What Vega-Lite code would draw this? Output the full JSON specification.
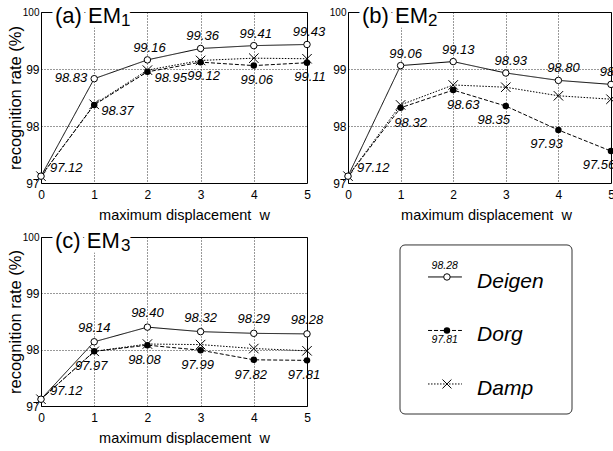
{
  "$schema": "https://vega.github.io/schema/vega-lite/v6.json",
  "padding": {"left": 6, "top": 4, "right": 0, "bottom": 0},
  "spacing": 7,
  "datasets": {
    "main": [
      {"panel": "a", "series": "Deigen", "w": 0, "rate": 97.12},
      {"panel": "a", "series": "Deigen", "w": 1, "rate": 98.83},
      {"panel": "a", "series": "Deigen", "w": 2, "rate": 99.16},
      {"panel": "a", "series": "Deigen", "w": 3, "rate": 99.36},
      {"panel": "a", "series": "Deigen", "w": 4, "rate": 99.41},
      {"panel": "a", "series": "Deigen", "w": 5, "rate": 99.43},
      {"panel": "a", "series": "Dorg", "w": 0, "rate": 97.12},
      {"panel": "a", "series": "Dorg", "w": 1, "rate": 98.37},
      {"panel": "a", "series": "Dorg", "w": 2, "rate": 98.95},
      {"panel": "a", "series": "Dorg", "w": 3, "rate": 99.12},
      {"panel": "a", "series": "Dorg", "w": 4, "rate": 99.06},
      {"panel": "a", "series": "Dorg", "w": 5, "rate": 99.11},
      {"panel": "a", "series": "Damp", "w": 0, "rate": 97.12},
      {"panel": "a", "series": "Damp", "w": 1, "rate": 98.38},
      {"panel": "a", "series": "Damp", "w": 2, "rate": 98.98},
      {"panel": "a", "series": "Damp", "w": 3, "rate": 99.15},
      {"panel": "a", "series": "Damp", "w": 4, "rate": 99.19},
      {"panel": "a", "series": "Damp", "w": 5, "rate": 99.18},
      {"panel": "b", "series": "Deigen", "w": 0, "rate": 97.12},
      {"panel": "b", "series": "Deigen", "w": 1, "rate": 99.06},
      {"panel": "b", "series": "Deigen", "w": 2, "rate": 99.13},
      {"panel": "b", "series": "Deigen", "w": 3, "rate": 98.93},
      {"panel": "b", "series": "Deigen", "w": 4, "rate": 98.80},
      {"panel": "b", "series": "Deigen", "w": 5, "rate": 98.73},
      {"panel": "b", "series": "Dorg", "w": 0, "rate": 97.12},
      {"panel": "b", "series": "Dorg", "w": 1, "rate": 98.32},
      {"panel": "b", "series": "Dorg", "w": 2, "rate": 98.63},
      {"panel": "b", "series": "Dorg", "w": 3, "rate": 98.35},
      {"panel": "b", "series": "Dorg", "w": 4, "rate": 97.93},
      {"panel": "b", "series": "Dorg", "w": 5, "rate": 97.56},
      {"panel": "b", "series": "Damp", "w": 0, "rate": 97.12},
      {"panel": "b", "series": "Damp", "w": 1, "rate": 98.37},
      {"panel": "b", "series": "Damp", "w": 2, "rate": 98.72},
      {"panel": "b", "series": "Damp", "w": 3, "rate": 98.68},
      {"panel": "b", "series": "Damp", "w": 4, "rate": 98.53},
      {"panel": "b", "series": "Damp", "w": 5, "rate": 98.47},
      {"panel": "c", "series": "Deigen", "w": 0, "rate": 97.12},
      {"panel": "c", "series": "Deigen", "w": 1, "rate": 98.14},
      {"panel": "c", "series": "Deigen", "w": 2, "rate": 98.40},
      {"panel": "c", "series": "Deigen", "w": 3, "rate": 98.32},
      {"panel": "c", "series": "Deigen", "w": 4, "rate": 98.29},
      {"panel": "c", "series": "Deigen", "w": 5, "rate": 98.28},
      {"panel": "c", "series": "Dorg", "w": 0, "rate": 97.12},
      {"panel": "c", "series": "Dorg", "w": 1, "rate": 97.97},
      {"panel": "c", "series": "Dorg", "w": 2, "rate": 98.08},
      {"panel": "c", "series": "Dorg", "w": 3, "rate": 97.99},
      {"panel": "c", "series": "Dorg", "w": 4, "rate": 97.82},
      {"panel": "c", "series": "Dorg", "w": 5, "rate": 97.81},
      {"panel": "c", "series": "Damp", "w": 0, "rate": 97.12},
      {"panel": "c", "series": "Damp", "w": 1, "rate": 97.97},
      {"panel": "c", "series": "Damp", "w": 2, "rate": 98.10},
      {"panel": "c", "series": "Damp", "w": 3, "rate": 98.09},
      {"panel": "c", "series": "Damp", "w": 4, "rate": 98.02},
      {"panel": "c", "series": "Damp", "w": 5, "rate": 97.98}
    ],
    "legend": [
      {"series": "Deigen", "sample": "98.28"},
      {"series": "Dorg", "sample": "97.81"},
      {"series": "Damp", "sample": ""}
    ]
  },
  "vconcat": [
    {
      "spacing": 1,
      "hconcat": [
        {
          "width": 266, "height": 171,
          "data": {"name": "main"},
          "transform": [{"filter": "datum.panel == 'a'"}],
          "encoding": {
            "x": {"field": "w", "type": "quantitative", "scale": {"domain": [0, 5], "nice": false, "zero": false},
                  "axis": {"values": [0, 1, 2, 3, 4, 5], "title": "maximum displacement\u00a0 w", "titleX": 143}},
            "y": {"field": "rate", "type": "quantitative", "scale": {"domain": [97, 100], "nice": false, "zero": false},
                  "axis": {"values": [97, 97.5, 98, 98.5, 99, 99.5, 100], "format": "d", "labelExpr": "datum.value % 1 == 0 ? datum.label : ''",
                           "labelFontSize": {"condition": {"test": "datum.value == 100", "value": 10}, "value": 12},
                           "title": "recognition rate (%)", "titleX": -18}}
          },
          "layer": [
            {"mark": {"type": "line", "color": "black", "strokeWidth": 1},
             "encoding": {"detail": {"field": "series"},
                          "strokeDash": {"field": "series", "type": "nominal", "scale": {"domain": ["Deigen", "Dorg", "Damp"], "range": [[1, 0], [4, 2], [1.5, 1.5]]}, "legend": null}}},
            {"transform": [{"filter": "datum.series == 'Damp'"}],
             "mark": {"type": "point", "shape": "M-1,-1L1,1M-1,1L1,-1", "size": 90, "color": "black", "strokeWidth": 1, "filled": false, "opacity": 1}},
            {"transform": [{"filter": "datum.series == 'Dorg'"}],
             "mark": {"type": "circle", "size": 42, "color": "black", "opacity": 1}},
            {"transform": [{"filter": "datum.series == 'Deigen'"}],
             "mark": {"type": "point", "shape": "circle", "size": 42, "fill": "white", "stroke": "black", "strokeWidth": 1, "filled": true, "opacity": 1}},
            {"transform": [{"filter": "datum.series == 'Deigen' && datum.w > 1"}],
             "mark": {"type": "text", "fontStyle": "italic", "fontSize": 13, "dx": 2, "dy": -12, "baseline": "middle"},
             "encoding": {"text": {"field": "rate", "format": ".2f"}}},
            {"transform": [{"filter": "datum.series == 'Deigen' && datum.w == 1"}],
             "mark": {"type": "text", "fontStyle": "italic", "fontSize": 13, "dx": -7, "dy": -1, "align": "right", "baseline": "middle"},
             "encoding": {"text": {"field": "rate", "format": ".2f"}}},
            {"transform": [{"filter": "datum.series == 'Deigen' && datum.w == 0"}],
             "mark": {"type": "text", "fontStyle": "italic", "fontSize": 13, "dx": 9, "dy": -8, "align": "left", "baseline": "middle"},
             "encoding": {"text": {"field": "rate", "format": ".2f"}}},
            {"transform": [{"filter": "datum.series == 'Dorg' && datum.w > 2"}],
             "mark": {"type": "text", "fontStyle": "italic", "fontSize": 13, "dx": 3, "dy": 14, "baseline": "middle"},
             "encoding": {"text": {"field": "rate", "format": ".2f"}}},
            {"transform": [{"filter": "datum.series == 'Dorg' && datum.w > 0 && datum.w <= 2"}],
             "mark": {"type": "text", "fontStyle": "italic", "fontSize": 13, "dx": 7, "dy": 6, "align": "left", "baseline": "middle"},
             "encoding": {"text": {"field": "rate", "format": ".2f"}}},
            {"transform": [{"filter": "datum.series == 'Deigen' && datum.w == 0"}],
             "mark": {"type": "text", "text": "(a) EM", "align": "left", "baseline": "middle", "dx": 14, "dy": 4, "fontSize": 22, "stroke": "white", "strokeWidth": 9, "fill": "white"},
             "encoding": {"x": {"datum": 0}, "y": {"datum": 100}}},
            {"transform": [{"filter": "datum.series == 'Deigen' && datum.w == 0"}],
             "mark": {"type": "text", "text": "1", "align": "left", "baseline": "middle", "dx": 80, "dy": 9, "fontSize": 17, "stroke": "white", "strokeWidth": 6, "fill": "white"},
             "encoding": {"x": {"datum": 0}, "y": {"datum": 100}}},
            {"transform": [{"filter": "datum.series == 'Deigen' && datum.w == 0"}],
             "mark": {"type": "text", "text": "(a) EM", "align": "left", "baseline": "middle", "dx": 14, "dy": 4, "fontSize": 22, "fill": "black"},
             "encoding": {"x": {"datum": 0}, "y": {"datum": 100}}},
            {"transform": [{"filter": "datum.series == 'Deigen' && datum.w == 0"}],
             "mark": {"type": "text", "text": "1", "align": "left", "baseline": "middle", "dx": 80, "dy": 9, "fontSize": 17, "fill": "black"},
             "encoding": {"x": {"datum": 0}, "y": {"datum": 100}}}
          ]
        },
        {
          "width": 263, "height": 171,
          "data": {"name": "main"},
          "transform": [{"filter": "datum.panel == 'b'"}],
          "encoding": {
            "x": {"field": "w", "type": "quantitative", "scale": {"domain": [0, 5], "nice": false, "zero": false},
                  "axis": {"values": [0, 1, 2, 3, 4, 5], "title": "maximum displacement\u00a0 w", "titleX": 138}},
            "y": {"field": "rate", "type": "quantitative", "scale": {"domain": [97, 100], "nice": false, "zero": false},
                  "axis": {"values": [97, 97.5, 98, 98.5, 99, 99.5, 100], "format": "d", "labelExpr": "datum.value % 1 == 0 ? datum.label : ''",
                           "labelFontSize": {"condition": {"test": "datum.value == 100", "value": 10}, "value": 12},
                           "title": null}}
          },
          "layer": [
            {"mark": {"type": "line", "color": "black", "strokeWidth": 1},
             "encoding": {"detail": {"field": "series"},
                          "strokeDash": {"field": "series", "type": "nominal", "scale": {"domain": ["Deigen", "Dorg", "Damp"], "range": [[1, 0], [4, 2], [1.5, 1.5]]}, "legend": null}}},
            {"transform": [{"filter": "datum.series == 'Damp'"}],
             "mark": {"type": "point", "shape": "M-1,-1L1,1M-1,1L1,-1", "size": 90, "color": "black", "strokeWidth": 1, "filled": false, "opacity": 1}},
            {"transform": [{"filter": "datum.series == 'Dorg'"}],
             "mark": {"type": "circle", "size": 42, "color": "black", "opacity": 1}},
            {"transform": [{"filter": "datum.series == 'Deigen'"}],
             "mark": {"type": "point", "shape": "circle", "size": 42, "fill": "white", "stroke": "black", "strokeWidth": 1, "filled": true, "opacity": 1}},
            {"transform": [{"filter": "datum.series == 'Deigen' && datum.w > 0"}],
             "mark": {"type": "text", "fontStyle": "italic", "fontSize": 13, "dx": 5, "dy": -12, "baseline": "middle"},
             "encoding": {"text": {"field": "rate", "format": ".2f"}}},
            {"transform": [{"filter": "datum.series == 'Deigen' && datum.w == 0"}],
             "mark": {"type": "text", "fontStyle": "italic", "fontSize": 13, "dx": 9, "dy": -8, "align": "left", "baseline": "middle"},
             "encoding": {"text": {"field": "rate", "format": ".2f"}}},
            {"transform": [{"filter": "datum.series == 'Dorg' && datum.w > 0 && datum.w <= 2"}],
             "mark": {"type": "text", "fontStyle": "italic", "fontSize": 13, "dx": 10, "dy": 15, "baseline": "middle"},
             "encoding": {"text": {"field": "rate", "format": ".2f"}}},
            {"transform": [{"filter": "datum.series == 'Dorg' && datum.w > 2"}],
             "mark": {"type": "text", "fontStyle": "italic", "fontSize": 13, "dx": -12, "dy": 14, "baseline": "middle"},
             "encoding": {"text": {"field": "rate", "format": ".2f"}}},
            {"transform": [{"filter": "datum.series == 'Deigen' && datum.w == 0"}],
             "mark": {"type": "text", "text": "(b) EM", "align": "left", "baseline": "middle", "dx": 14, "dy": 4, "fontSize": 22, "stroke": "white", "strokeWidth": 9, "fill": "white"},
             "encoding": {"x": {"datum": 0}, "y": {"datum": 100}}},
            {"transform": [{"filter": "datum.series == 'Deigen' && datum.w == 0"}],
             "mark": {"type": "text", "text": "2", "align": "left", "baseline": "middle", "dx": 80, "dy": 9, "fontSize": 17, "stroke": "white", "strokeWidth": 6, "fill": "white"},
             "encoding": {"x": {"datum": 0}, "y": {"datum": 100}}},
            {"transform": [{"filter": "datum.series == 'Deigen' && datum.w == 0"}],
             "mark": {"type": "text", "text": "(b) EM", "align": "left", "baseline": "middle", "dx": 14, "dy": 4, "fontSize": 22, "fill": "black"},
             "encoding": {"x": {"datum": 0}, "y": {"datum": 100}}},
            {"transform": [{"filter": "datum.series == 'Deigen' && datum.w == 0"}],
             "mark": {"type": "text", "text": "2", "align": "left", "baseline": "middle", "dx": 80, "dy": 9, "fontSize": 17, "fill": "black"},
             "encoding": {"x": {"datum": 0}, "y": {"datum": 100}}}
          ]
        }
      ]
    },
    {
      "spacing": 75,
      "hconcat": [
        {
          "width": 266, "height": 169,
          "data": {"name": "main"},
          "transform": [{"filter": "datum.panel == 'c'"}],
          "encoding": {
            "x": {"field": "w", "type": "quantitative", "scale": {"domain": [0, 5], "nice": false, "zero": false},
                  "axis": {"values": [0, 1, 2, 3, 4, 5], "title": "maximum displacement\u00a0 w", "titleX": 143}},
            "y": {"field": "rate", "type": "quantitative", "scale": {"domain": [97, 100], "nice": false, "zero": false},
                  "axis": {"values": [97, 97.5, 98, 98.5, 99, 99.5, 100], "format": "d", "labelExpr": "datum.value % 1 == 0 ? datum.label : ''",
                           "labelFontSize": {"condition": {"test": "datum.value == 100", "value": 10}, "value": 12},
                           "title": "recognition rate (%)", "titleX": -18}}
          },
          "layer": [
            {"mark": {"type": "line", "color": "black", "strokeWidth": 1},
             "encoding": {"detail": {"field": "series"},
                          "strokeDash": {"field": "series", "type": "nominal", "scale": {"domain": ["Deigen", "Dorg", "Damp"], "range": [[1, 0], [4, 2], [1.5, 1.5]]}, "legend": null}}},
            {"transform": [{"filter": "datum.series == 'Damp'"}],
             "mark": {"type": "point", "shape": "M-1,-1L1,1M-1,1L1,-1", "size": 90, "color": "black", "strokeWidth": 1, "filled": false, "opacity": 1}},
            {"transform": [{"filter": "datum.series == 'Dorg'"}],
             "mark": {"type": "circle", "size": 42, "color": "black", "opacity": 1}},
            {"transform": [{"filter": "datum.series == 'Deigen'"}],
             "mark": {"type": "point", "shape": "circle", "size": 42, "fill": "white", "stroke": "black", "strokeWidth": 1, "filled": true, "opacity": 1}},
            {"transform": [{"filter": "datum.series == 'Deigen' && datum.w > 0"}],
             "mark": {"type": "text", "fontStyle": "italic", "fontSize": 13, "dx": 0, "dy": -14, "baseline": "middle"},
             "encoding": {"text": {"field": "rate", "format": ".2f"}}},
            {"transform": [{"filter": "datum.series == 'Deigen' && datum.w == 0"}],
             "mark": {"type": "text", "fontStyle": "italic", "fontSize": 13, "dx": 9, "dy": -8, "align": "left", "baseline": "middle"},
             "encoding": {"text": {"field": "rate", "format": ".2f"}}},
            {"transform": [{"filter": "datum.series == 'Dorg' && datum.w > 0"}],
             "mark": {"type": "text", "fontStyle": "italic", "fontSize": 13, "dx": -3, "dy": 15, "baseline": "middle"},
             "encoding": {"text": {"field": "rate", "format": ".2f"}}},
            {"transform": [{"filter": "datum.series == 'Deigen' && datum.w == 0"}],
             "mark": {"type": "text", "text": "(c) EM", "align": "left", "baseline": "middle", "dx": 14, "dy": 4, "fontSize": 22, "stroke": "white", "strokeWidth": 9, "fill": "white"},
             "encoding": {"x": {"datum": 0}, "y": {"datum": 100}}},
            {"transform": [{"filter": "datum.series == 'Deigen' && datum.w == 0"}],
             "mark": {"type": "text", "text": "3", "align": "left", "baseline": "middle", "dx": 80, "dy": 9, "fontSize": 17, "stroke": "white", "strokeWidth": 6, "fill": "white"},
             "encoding": {"x": {"datum": 0}, "y": {"datum": 100}}},
            {"transform": [{"filter": "datum.series == 'Deigen' && datum.w == 0"}],
             "mark": {"type": "text", "text": "(c) EM", "align": "left", "baseline": "middle", "dx": 14, "dy": 4, "fontSize": 22, "fill": "black"},
             "encoding": {"x": {"datum": 0}, "y": {"datum": 100}}},
            {"transform": [{"filter": "datum.series == 'Deigen' && datum.w == 0"}],
             "mark": {"type": "text", "text": "3", "align": "left", "baseline": "middle", "dx": 80, "dy": 9, "fontSize": 17, "fill": "black"},
             "encoding": {"x": {"datum": 0}, "y": {"datum": 100}}}
          ]
        },
        {
          "width": 172, "height": 177,
          "view": {"stroke": null},
          "resolve": {"scale": {"y": "independent"}},
          "layer": [
            {"data": {"values": [{}]},
             "mark": {"type": "rect", "fill": "white", "stroke": "#333", "strokeWidth": 1, "cornerRadius": 5},
             "encoding": {
               "x": {"datum": 0, "type": "quantitative", "scale": {"domain": [0, 10]}, "axis": null},
               "x2": {"datum": 10},
               "y": {"datum": 0, "type": "quantitative", "scale": {"domain": [0, 10]}, "axis": null},
               "y2": {"datum": 9.55}}},
            {"data": {"name": "legend"},
             "mark": {"type": "rule", "color": "black", "strokeWidth": 1},
             "encoding": {
               "x": {"datum": 1.63, "type": "quantitative", "scale": {"domain": [0, 10]}, "axis": null},
               "x2": {"datum": 3.6},
               "y": {"field": "series", "type": "nominal", "scale": {"type": "point", "domain": ["Deigen", "Dorg", "Damp"], "padding": 0.654, "align": 0.571}, "axis": null},
               "strokeDash": {"field": "series", "type": "nominal", "scale": {"domain": ["Deigen", "Dorg", "Damp"], "range": [[1, 0], [4, 2], [1.5, 1.5]]}, "legend": null}}},
            {"data": {"name": "legend"},
             "transform": [{"filter": "datum.series == 'Deigen'"}],
             "mark": {"type": "point", "shape": "circle", "size": 42, "fill": "white", "stroke": "black", "strokeWidth": 1, "filled": true, "opacity": 1},
             "encoding": {
               "x": {"datum": 2.73, "type": "quantitative", "scale": {"domain": [0, 10]}, "axis": null},
               "y": {"field": "series", "type": "nominal", "scale": {"type": "point", "domain": ["Deigen", "Dorg", "Damp"], "padding": 0.654, "align": 0.571}, "axis": null}}},
            {"data": {"name": "legend"},
             "transform": [{"filter": "datum.series == 'Dorg'"}],
             "mark": {"type": "circle", "size": 42, "color": "black", "opacity": 1},
             "encoding": {
               "x": {"datum": 2.73, "type": "quantitative", "scale": {"domain": [0, 10]}, "axis": null},
               "y": {"field": "series", "type": "nominal", "scale": {"type": "point", "domain": ["Deigen", "Dorg", "Damp"], "padding": 0.654, "align": 0.571}, "axis": null}}},
            {"data": {"name": "legend"},
             "transform": [{"filter": "datum.series == 'Damp'"}],
             "mark": {"type": "point", "shape": "M-1,-1L1,1M-1,1L1,-1", "size": 80, "color": "black", "strokeWidth": 1, "filled": false, "opacity": 1},
             "encoding": {
               "x": {"datum": 2.73, "type": "quantitative", "scale": {"domain": [0, 10]}, "axis": null},
               "y": {"field": "series", "type": "nominal", "scale": {"type": "point", "domain": ["Deigen", "Dorg", "Damp"], "padding": 0.654, "align": 0.571}, "axis": null}}},
            {"data": {"name": "legend"},
             "mark": {"type": "text", "align": "left", "baseline": "alphabetic", "dy": 11, "fontSize": 21, "fontStyle": "italic", "color": "black"},
             "encoding": {
               "x": {"datum": 4.48, "type": "quantitative", "scale": {"domain": [0, 10]}, "axis": null},
               "y": {"field": "series", "type": "nominal", "scale": {"type": "point", "domain": ["Deigen", "Dorg", "Damp"], "padding": 0.654, "align": 0.571}, "axis": null},
               "text": {"field": "series"}}},
            {"data": {"name": "legend"},
             "transform": [{"filter": "datum.series == 'Deigen'"}],
             "mark": {"type": "text", "align": "center", "baseline": "middle", "dy": -11, "fontSize": 10.5, "fontStyle": "italic", "color": "black"},
             "encoding": {
               "x": {"datum": 2.6, "type": "quantitative", "scale": {"domain": [0, 10]}, "axis": null},
               "y": {"field": "series", "type": "nominal", "scale": {"type": "point", "domain": ["Deigen", "Dorg", "Damp"], "padding": 0.654, "align": 0.571}, "axis": null},
               "text": {"field": "sample"}}},
            {"data": {"name": "legend"},
             "transform": [{"filter": "datum.series == 'Dorg'"}],
             "mark": {"type": "text", "align": "center", "baseline": "middle", "dy": 10, "fontSize": 10.5, "fontStyle": "italic", "color": "black"},
             "encoding": {
               "x": {"datum": 2.6, "type": "quantitative", "scale": {"domain": [0, 10]}, "axis": null},
               "y": {"field": "series", "type": "nominal", "scale": {"type": "point", "domain": ["Deigen", "Dorg", "Damp"], "padding": 0.654, "align": 0.571}, "axis": null},
               "text": {"field": "sample"}}}
          ]
        }
      ]
    }
  ],
  "config": {
    "font": "Liberation Sans",
    "view": {"stroke": "black", "strokeWidth": 1},
    "axis": {"grid": true, "gridColor": "black", "gridDash": [1, 2], "gridWidth": 1, "gridOpacity": 0.8,
             "domain": false, "ticks": false, "labelFlush": false,
             "labelFont": "Liberation Sans", "labelFontSize": 12, "labelColor": "black",
             "titleFont": "Liberation Sans", "titleFontWeight": "normal", "titleColor": "black"},
    "axisX": {"labelPadding": 6, "titlePadding": 8, "labelAngle": 0, "titleFontSize": 14.5},
    "axisY": {"labelPadding": 2, "titlePadding": 2, "titleFontSize": 16.5}
  }
}
